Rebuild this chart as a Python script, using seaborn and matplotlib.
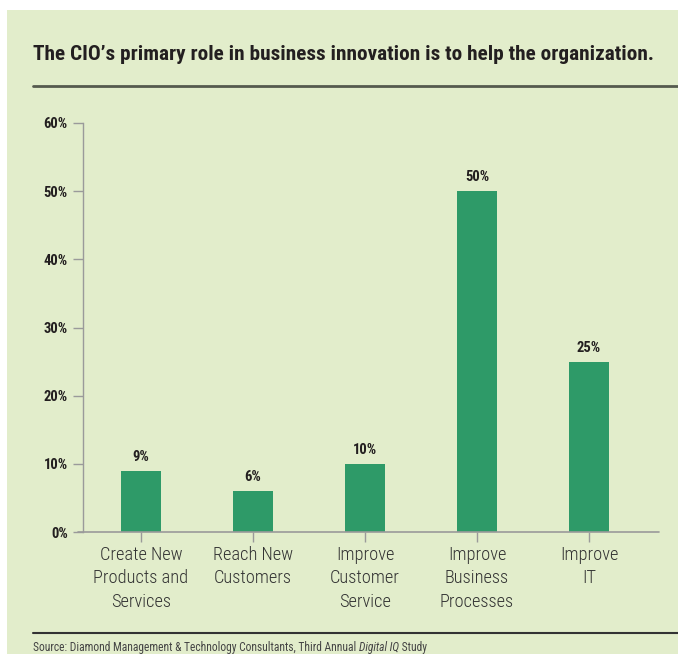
import matplotlib
matplotlib.use("Agg")
import matplotlib.pyplot as plt
import matplotlib.font_manager as fm
from matplotlib.patches import Rectangle
from matplotlib.lines import Line2D
import seaborn as sns
import pandas as pd

categories = [
    "Create New\nProducts and\nServices",
    "Reach New\nCustomers",
    "Improve\nCustomer\nService",
    "Improve\nBusiness\nProcesses",
    "Improve\nIT",
]
values = [9, 6, 10, 50, 25]
value_labels = ["9%", "6%", "10%", "50%", "25%"]
y_ticks = [0, 10, 20, 30, 40, 50, 60]
y_tick_labels = ["0%", "10%", "20%", "30%", "40%", "50%", "60%"]
title = "The CIO\u2019s primary role in business innovation is to help the organization."
source_pre = "Source: Diamond Management & Technology Consultants, Third Annual "
source_it = "Digital IQ"
source_post = " Study"

BG = "#e2edcb"
BAR = "#2e9a68"
INK = "#231f20"
AXIS = "#9a9a9a"

# pick a narrow sans family that ships static regular and bold files
candidates = ["Roboto Condensed", "Archivo Narrow", "Pragati Narrow",
              "PT Sans Narrow", "Liberation Sans Narrow", "Fira Sans Condensed",
              "IBM Plex Sans Condensed", "Encode Sans Condensed",
              "Asap Condensed", "Open Sans Condensed", "Barlow Semi Condensed",
              "Sofia Sans Condensed"]
static = {}
for f in fm.fontManager.ttflist:
    if "[" in f.fname:
        continue
    static.setdefault(f.name, set()).add((f.weight, f.style))
narrow = "DejaVu Sans"
for c in candidates:
    s = static.get(c, set())
    if (400, "normal") in s and (700, "normal") in s:
        narrow = c
        break
light_weight = "light" if (300, "normal") in static.get(narrow, set()) else "normal"

sns.set_theme(style="white")
plt.rcParams["font.family"] = [narrow, "DejaVu Sans"]

W, H = 678, 654
fig = plt.figure(figsize=(W / 100, H / 100), dpi=100)
fig.patch.set_facecolor("white")

def px(x, y):
    return x / W, 1 - y / H

# panel background
fig.patches.append(Rectangle((7 / W, 0), (W - 7) / W, (H - 10) / H,
                             transform=fig.transFigure, facecolor=BG,
                             edgecolor="none", zorder=-10))

renderer = fig.canvas.get_renderer()

# title, fitted to the panel's text width
t = fig.text(*px(33, 54), title, fontsize=15, fontweight="bold", color=INK,
             va="center", ha="left")
w = t.get_window_extent(renderer).width
t.set_fontsize(15 * 618 / w)

fig.add_artist(Line2D([33 / W, 1], [1 - 86 / H] * 2, color="#555a4e", lw=2,
                      transform=fig.transFigure))
fig.add_artist(Line2D([33 / W, 1], [1 - 633 / H] * 2, color="#333333", lw=1.5,
                      transform=fig.transFigure))

# source line with italic study name
x0 = 33
for txt, style in [(source_pre, "normal"), (source_it, "italic"), (source_post, "normal")]:
    st = fig.text(*px(x0, 647), txt, fontsize=8.3, color="#444444",
                  va="center", ha="left", style=style)
    x0 += st.get_window_extent(renderer).width

# plot area
ax_left, ax_right, ax_top, ax_bottom = 83, 659, 123, 532
ax = fig.add_axes([ax_left / W, 1 - ax_bottom / H, (ax_right - ax_left) / W,
                   (ax_bottom - ax_top) / H])
ax.set_facecolor("none")

df = pd.DataFrame({"category": categories, "value": values})
sns.barplot(data=df, x="category", y="value", color=BAR, saturation=1,
            width=0.35, linewidth=0, ax=ax)

ax.set_xlim(-0.518, 4.625)
ax.set_ylim(0, 60)
ax.set_yticks(y_ticks)
ax.set_yticklabels(y_tick_labels, fontweight="bold", fontsize=10.5, color=INK)
ax.tick_params(axis="y", direction="out", length=7, width=1, color=AXIS,
               pad=4, left=True)
ax.tick_params(axis="x", direction="out", length=7, width=1, color=AXIS,
               pad=3, bottom=True, labelsize=13.2, labelcolor="#333333")
for lab in ax.get_xticklabels():
    lab.set_linespacing(1.38)
    lab.set_fontweight(light_weight)
ax.set_xlabel("")
ax.set_ylabel("")

for side in ["top", "right"]:
    ax.spines[side].set_visible(False)
ax.spines["left"].set_color(AXIS)
ax.spines["left"].set_linewidth(1)
ax.spines["bottom"].set_visible(False)
ax.add_artist(Line2D([-(ax_left - 78) / (ax_right - ax_left), 1], [0, 0],
                     transform=ax.transAxes, color=AXIS, lw=1.2, clip_on=False))

for i, (v, lab) in enumerate(zip(values, value_labels)):
    ax.annotate(lab, (i, v), xytext=(0, 5), textcoords="offset points",
                ha="center", va="bottom", fontsize=10.5, fontweight="bold",
                color=INK)

fig.savefig("out.png", dpi=100, facecolor="white")
